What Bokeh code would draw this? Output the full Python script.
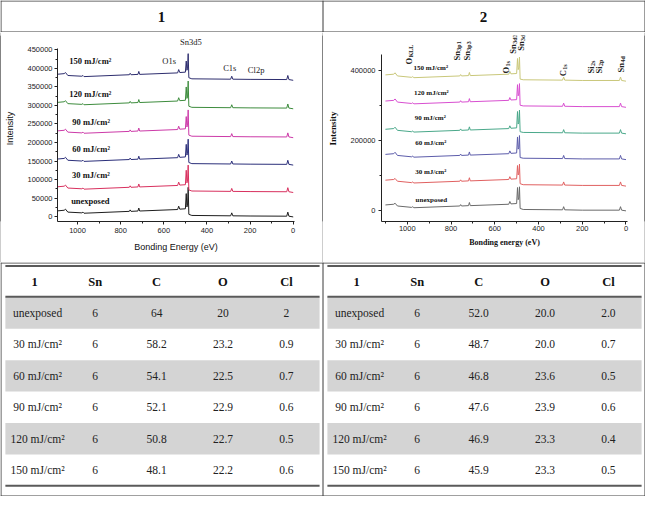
import math
from bokeh.plotting import figure
from bokeh.layouts import column, row
from bokeh.models import Range1d, SingleIntervalTicker, FixedTicker, ColumnDataSource, BasicTickFormatter
from bokeh.core.properties import value
from bokeh.embed import file_html
from bokeh.resources import INLINE

# ---------------- data ----------------
panel_titles = ["1", "2"]
doses = ["unexposed", "30 mJ/cm²", "60 mJ/cm²", "90 mJ/cm²", "120 mJ/cm²", "150 mJ/cm²"]

energy = [1100, 1062, 1056, 1045, 980, 975, 970, 760, 756, 752, 720, 716, 712, 536, 531, 526,
          500, 496, 493, 490, 487, 484, 470, 290, 285, 280, 200, 30, 25, 20, 0]

# panel 1 spectra (intensity)
a_unexposed = [15000, 17000, 20000, 12000, 10000, 12000, 9000, 14000, 18000, 14000, 15000, 23000, 15000, 19000, 28000, 20000,
               21000, 62000, 26000, 30000, 79000, 6000, 3000, 2000, 10000, 2000, 1500, 1000, 12000, 1000, -1000]
a_30 = [80000, 82000, 85000, 77000, 75000, 77000, 74000, 79000, 83000, 79000, 80000, 88000, 80000, 84000, 93000, 85000,
        86000, 125000, 91000, 95000, 139000, 72000, 69000, 68000, 76000, 68000, 67500, 67000, 78000, 67000, 65000]
a_60 = [155000, 157000, 160000, 152000, 150000, 152000, 149000, 154000, 158000, 154000, 155000, 163000, 155000, 159000, 168000, 160000,
        161000, 195000, 166000, 170000, 209000, 146000, 143000, 142000, 150000, 142000, 141500, 141000, 152000, 141000, 139000]
a_90 = [231000, 233000, 236000, 228000, 226000, 228000, 225000, 230000, 234000, 230000, 231000, 239000, 231000, 235000, 244000, 236000,
        237000, 270000, 242000, 246000, 288000, 220000, 217000, 216000, 224000, 216000, 215500, 215000, 226000, 215000, 213000]
a_120 = [308000, 310000, 313000, 305000, 303000, 305000, 302000, 307000, 311000, 307000, 308000, 316000, 308000, 312000, 321000, 313000,
         314000, 350000, 319000, 323000, 366000, 298000, 295000, 294000, 302000, 294000, 293500, 293000, 304000, 293000, 291000]
a_150 = [384000, 386000, 389000, 381000, 379000, 381000, 378000, 383000, 387000, 383000, 384000, 392000, 384000, 388000, 397000, 389000,
         390000, 420000, 395000, 399000, 440000, 375000, 372000, 371000, 379000, 371000, 370500, 370000, 381000, 370000, 368000]

# panel 2 spectra (intensity)
b_unexposed = [15000, 17000, 20000, 12000, 8000, 10000, 7000, 12000, 16000, 12000, 13000, 22000, 13000, 17000, 25000, 18000,
               19000, 65000, 30000, 35000, 67000, 5000, 2000, 1000, 10000, 1000, 0, 0, 10000, 0, -2000]
b_30 = [86000, 88000, 91000, 83000, 79000, 81000, 78000, 83000, 87000, 83000, 84000, 93000, 84000, 88000, 96000, 89000,
        90000, 128000, 101000, 106000, 132000, 76000, 73000, 72000, 81000, 72000, 71000, 71000, 81000, 71000, 69000]
b_60 = [160000, 162000, 166000, 157000, 153000, 155000, 152000, 157000, 161000, 157000, 158000, 167000, 158000, 162000, 170000, 163000,
        164000, 210000, 175000, 180000, 214000, 151000, 149000, 148000, 157000, 148000, 147000, 147000, 157000, 147000, 145000]
b_90 = [232000, 234000, 238000, 229000, 225000, 227000, 224000, 229000, 233000, 229000, 230000, 239000, 230000, 234000, 242000, 235000,
        236000, 283000, 247000, 252000, 287000, 225000, 223000, 222000, 231000, 222000, 221000, 221000, 231000, 221000, 219000]
b_120 = [313000, 315000, 319000, 310000, 306000, 308000, 305000, 310000, 314000, 310000, 311000, 320000, 311000, 315000, 323000, 316000,
         317000, 360000, 328000, 333000, 363000, 301000, 299000, 298000, 307000, 298000, 297000, 297000, 307000, 297000, 295000]
b_150 = [388000, 390000, 394000, 385000, 381000, 383000, 380000, 385000, 389000, 385000, 386000, 395000, 386000, 390000, 398000, 391000,
         392000, 435000, 403000, 408000, 439000, 376000, 374000, 373000, 382000, 373000, 372000, 372000, 382000, 372000, 370000]

# label positions (data units)
a_dose_e = [941, 938, 937, 937, 941, 941]
a_dose_i = [42000, 113000, 183000, 256000, 332000, 419000]
a_peak_text = ["Sn3d5", "O1s", "C1s", "Cl2p"]
a_peak_e = [475, 575, 294, 172]
a_peak_i = [471000, 421000, 400000, 395000]

b_dose_e = [890, 893, 893, 895, 890, 893]
b_dose_i = [29000, 109000, 192000, 265000, 335000, 408000]
b_peak_main = ["O", "Sn", "Sn", "O", "Sn", "Sn", "C", "Si", "Si", "Sn"]
b_peak_sub = ["KLL", "3p1", "3p3", "1s", "3d3", "3d5", "1s", "2s", "2p", "4d"]
b_peak_e = [991, 772, 728, 549, 518, 478, 290, 160, 124, 22]
b_peak_i = [418000, 429000, 429000, 392000, 449000, 457000, 384000, 392000, 392000, 395000]

# tables
table_header = ["1", "Sn", "C", "O", "Cl"]
t1_sn = [6, 6, 6, 6, 6, 6]
t1_c = [64, 58.2, 54.1, 52.1, 50.8, 48.1]
t1_o = [20, 23.2, 22.5, 22.9, 22.7, 22.2]
t1_cl = [2, 0.9, 0.7, 0.6, 0.5, 0.6]
t2_sn = [6, 6, 6, 6, 6, 6]
t2_c = [52.0, 48.7, 46.8, 47.6, 46.9, 45.9]
t2_o = [20.0, 20.0, 23.6, 23.9, 23.3, 23.3]
t2_cl = [2.0, 0.7, 0.5, 0.6, 0.4, 0.5]

# ---------------- style ----------------
SERIF = "Liberation Serif"
SANS = "Liberation Sans"
BORDER = "#3a3a3a"
colors_a = ["#1e1e1e", "#d8305e", "#2b2f7a", "#cc3aa8", "#3d8c3d", "#2d2d6e"]
colors_b = ["#6a6a6a", "#e06060", "#5c5caa", "#4aa88a", "#d84fd0", "#c9c77a"]


def style_axes(p, tick_font, tick_size):
    for ax in (p.xaxis[0], p.yaxis[0]):
        ax.axis_line_color = "#222222"
        ax.major_tick_line_color = "#222222"
        ax.minor_tick_line_color = "#222222"
        ax.major_tick_in = 0
        ax.major_tick_out = 3
        ax.minor_tick_in = 0
        ax.minor_tick_out = 2
        ax.major_label_text_font = tick_font
        ax.major_label_text_font_size = tick_size
        ax.major_label_text_color = "#222222"
        ax.axis_label_text_color = "#111111"
    p.yaxis[0].formatter = BasicTickFormatter(use_scientific=False)


def make_chart(xr, yr, mbl, mbr, mbb):
    p = figure(width=321, height=230, x_range=Range1d(*xr), y_range=Range1d(*yr),
               output_backend="svg", toolbar_location=None,
               min_border_left=mbl, min_border_right=mbr, min_border_top=3, min_border_bottom=mbb)
    p.outline_line_color = None
    p.xgrid.visible = False
    p.ygrid.visible = False
    p.background_fill_color = "white"
    p.border_fill_color = "white"
    return p


# ---- chart 1 ----
c1 = make_chart((1093, -6), (-13350, 489000), 56, 28, 41)
for ys, col in zip([a_unexposed, a_30, a_60, a_90, a_120, a_150], colors_a):
    c1.line(energy, ys, line_color=col, line_width=1)
style_axes(c1, SANS, "7.5px")
c1.xaxis.ticker = SingleIntervalTicker(interval=200, num_minor_ticks=2)
c1.yaxis.ticker = SingleIntervalTicker(interval=50000, num_minor_ticks=2)
c1.yaxis.bounds = (-13350, 453000)
c1.xaxis.axis_label = "Bonding Energy (eV)"
c1.yaxis.axis_label = "Intensity"
for ax in (c1.xaxis[0], c1.yaxis[0]):
    ax.axis_label_text_font = SANS
    ax.axis_label_text_font_style = "normal"
    ax.axis_label_text_font_size = "9px"
c1.xaxis.major_label_standoff = 3
c1.xaxis.axis_label_standoff = 6
c1.yaxis.major_label_standoff = 2
c1.yaxis.axis_label_standoff = 9
c1.text(x=a_dose_e, y=a_dose_i, text=doses, text_font=value(SERIF), text_font_style="bold",
        text_font_size="8.5px", text_align="center", text_baseline="middle", text_color="#111111")
c1.text(x=a_peak_e, y=a_peak_i, text=a_peak_text, text_font=value(SERIF),
        text_font_size="8.5px", text_align="center", text_baseline="middle", text_color="#222222")

# ---- chart 2 ----
c2 = make_chart((1118, -7), (-32500, 501000), 58, 17, 28)
for ys, col in zip([b_unexposed, b_30, b_60, b_90, b_120, b_150], colors_b):
    c2.line(energy, ys, line_color=col, line_width=1)
style_axes(c2, SANS, "7.5px")
c2.xaxis.ticker = SingleIntervalTicker(interval=200, num_minor_ticks=2)
c2.yaxis.ticker = FixedTicker(ticks=[0, 200000, 400000], minor_ticks=[100000, 300000])
c2.yaxis.bounds = (-32500, 447000)
c2.xaxis.axis_label = "Bonding energy (eV)"
c2.yaxis.axis_label = "Intensity"
for ax, sz in ((c2.xaxis[0], "8px"), (c2.yaxis[0], "9px")):
    ax.axis_label_text_font = SERIF
    ax.axis_label_text_font_style = "bold"
    ax.axis_label_text_font_size = sz
c2.xaxis.major_label_standoff = 1
c2.xaxis.axis_label_standoff = 4
c2.yaxis.major_label_standoff = 3
c2.yaxis.axis_label_standoff = 9
c2.text(x=b_dose_e, y=b_dose_i, text=doses, text_font=value(SERIF), text_font_style="bold",
        text_font_size="7px", text_align="center", text_baseline="middle", text_color="#111111")

# rotated peak labels: main symbol + subscript
char_w = {"O": 0.778, "S": 0.556, "n": 0.556, "C": 0.722, "i": 0.278}
main_size = 8.5
main_len = [sum(char_w[ch] for ch in m) * main_size for m in b_peak_main]
c2.text(x=b_peak_e, y=b_peak_i, text=b_peak_main, angle=math.pi / 2, text_font=value(SERIF),
        text_font_style="bold", text_font_size=f"{main_size}px", text_align="left",
        text_baseline="middle", text_color="#222222")
sub_src = ColumnDataSource(dict(x=b_peak_e, y=b_peak_i, t=b_peak_sub,
                                yo=[-(l + 0.5) for l in main_len], xo=[2] * len(b_peak_sub)))
c2.text(x="x", y="y", text="t", source=sub_src, angle=math.pi / 2, x_offset="xo", y_offset="yo",
        text_font=value(SERIF), text_font_style="bold", text_font_size="6px", text_align="left",
        text_baseline="middle", text_color="#222222")


def strip(h):
    s = figure(width=1, height=h, x_range=Range1d(0, 1), y_range=Range1d(0, 1), output_backend="svg",
               toolbar_location=None, min_border=0, x_axis_type=None, y_axis_type=None)
    s.background_fill_color = BORDER
    s.border_fill_color = BORDER
    s.outline_line_color = None
    s.quad(left=[0], right=[1], bottom=[0], top=[1], fill_color=BORDER, line_color=None)
    return s


# ---- header ----
hdr = figure(width=645, height=32, x_range=Range1d(0, 661), y_range=Range1d(33, 0), output_backend="svg",
             toolbar_location=None, min_border=0, x_axis_type=None, y_axis_type=None)
hdr.outline_line_color = None
hdr.segment(x0=[0.5, 660.5, 330.5, 0, 0], y0=[0, 0, 0, 0.5, 32.5],
            x1=[0.5, 660.5, 330.5, 661, 661], y1=[33, 33, 33, 0.5, 32.5],
            line_color=BORDER, line_width=1)
hdr.text(x=[165, 495], y=[17.5, 17.5], text=panel_titles, text_font=value(SERIF), text_font_style="bold",
         text_font_size="15px", text_align="center", text_baseline="middle", text_color="#111111")

# ---- tables ----
tbl = figure(width=645, height=234, x_range=Range1d(0, 661), y_range=Range1d(512, 270), output_backend="svg",
             toolbar_location=None, min_border=0, x_axis_type=None, y_axis_type=None)
tbl.outline_line_color = None
row_top0, row_h = 306.0, 32.5
col_x = [38, 97, 160, 228, 293]
tables = [(0, t1_sn, t1_c, t1_o, t1_cl, "{:g}"), (330, t2_sn, t2_c, t2_o, t2_cl, "{:.1f}")]
for off, sn, cc, oo, cl, fmt in tables:
    gl, gr, gt, gb = [], [], [], []
    for i in range(len(doses)):
        if i % 2 == 0:
            gl.append(off + 5)
            gr.append(off + 327)
            gt.append(row_top0 + i * row_h)
            gb.append(row_top0 + (i + 1) * row_h)
    tbl.quad(left=gl, right=gr, top=gt, bottom=gb, fill_color="#d4d4d4", line_color=None)
    tbl.segment(x0=[off + 5] * 3, x1=[off + 327] * 3, y0=[273.5, 305.5, 501.0], y1=[273.5, 305.5, 501.0],
                line_color="#5a5a5a", line_width=2)
    hx = [off + col_x[0] - 3] + [off + c for c in col_x[1:]]
    tbl.text(x=hx, y=[290] * 5, text=table_header, text_font=value(SERIF), text_font_style="bold",
             text_font_size="12.5px", text_align="center", text_baseline="middle", text_color="#111111")
    ys = [row_top0 + (i + 0.5) * row_h for i in range(len(doses))]
    tbl.text(x=[off + col_x[0]] * len(doses), y=ys, text=doses, text_font=value(SERIF),
             text_font_size="11.5px", text_align="center", text_baseline="middle", text_color="#222222")
    for ci, vals in enumerate([sn, cc, oo, cl]):
        txt = [str(v) if ci == 0 else fmt.format(v) for v in vals]
        tbl.text(x=[off + col_x[ci + 1]] * len(vals), y=ys, text=txt, text_font=value(SERIF),
                 text_font_size="11.5px", text_align="center", text_baseline="middle", text_color="#222222")
tbl.segment(x0=[0.5, 660.5, 330.5, 0, 0], y0=[270, 270, 270, 270.5, 511.5],
            x1=[0.5, 660.5, 330.5, 661, 661], y1=[512, 512, 512, 270.5, 511.5],
            line_color=BORDER, line_width=1)

layout = column(hdr, row(strip(230), c1, strip(230), c2, strip(230), spacing=0), tbl, spacing=0)

open("out.html", "w").write(file_html(layout, INLINE))
